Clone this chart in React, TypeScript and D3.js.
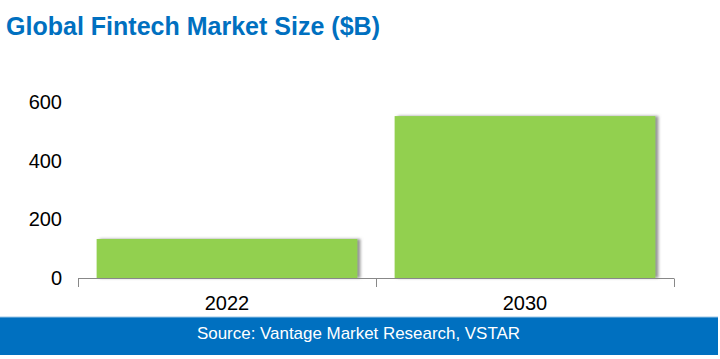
import React from "react";
import * as d3 from "d3";

const categories = ["2022", "2030"];
const values = [133, 552];
const yTicks = [0, 200, 400, 600];
const title = "Global Fintech Market Size ($B)";
const source = "Source: Vantage Market Research, VSTAR";

export default function App() {
  const W = 720, H = 359;
  const x = d3.scaleBand<string>().domain(categories).range([78, 674]).paddingInner(0.125).paddingOuter(0.0625);
  const y = d3.scaleLinear().domain([0, 600]).range([278, 102]);
  const axisY = 278.5;
  const tickXs = [78, ...categories.map((c) => (x(c) as number) + x.bandwidth() + (x.step() - x.bandwidth()) / 2)];
  return (
    <svg width={W} height={H} style={{ position: "absolute", left: 0, top: 0, fontFamily: "Liberation Sans, Arial, sans-serif" }}>
      <defs>
        <filter id="sh" x="-10%" y="-10%" width="130%" height="130%">
          <feDropShadow dx="3" dy="0" stdDeviation="1.4" floodColor="#777" floodOpacity="0.8" />
        </filter>
      </defs>
      <rect width={W} height={H} fill="#fff" />
      <text x={6} y={34.5} fill="#0070C0" fontSize={26} fontWeight="bold" textLength={374} lengthAdjust="spacingAndGlyphs"
        style={{ fontFamily: "Liberation Sans Narrow, Arial Narrow, Liberation Sans, Arial, sans-serif" }}>{title}</text>
      {yTicks.map((t) => (
        <text key={t} x={62} y={y(t)} dy="0.35em" textAnchor="end" fontSize={20} fill="#000">{t}</text>
      ))}
      {categories.map((c, i) => (
        <rect key={c} x={x(c)} y={y(values[i])} width={x.bandwidth()} height={y(0) - y(values[i])} fill="#92D050" filter="url(#sh)" />
      ))}
      <line x1={78} x2={674} y1={axisY} y2={axisY} stroke="#888" strokeWidth={1} />
      {tickXs.map((tx, i) => (
        <line key={i} x1={tx + 0.5} x2={tx + 0.5} y1={axisY} y2={287} stroke="#888" strokeWidth={1} />
      ))}
      {categories.map((c) => (
        <text key={c} x={(x(c) as number) + x.bandwidth() / 2} y={310} textAnchor="middle" fontSize={20} fill="#000">{c}</text>
      ))}
      <rect x={0} y={317} width={718} height={38} fill="#0070C0" />
      <line x1={0} x2={718} y1={317} y2={317} stroke="#9cc6e6" strokeWidth={1} />
      <text x={197} y={339} fontSize={17} fill="#fff" textLength={323} lengthAdjust="spacingAndGlyphs"
        style={{ fontFamily: "Liberation Sans Narrow, Arial Narrow, Liberation Sans, Arial, sans-serif" }}>{source}</text>
    </svg>
  );
}
